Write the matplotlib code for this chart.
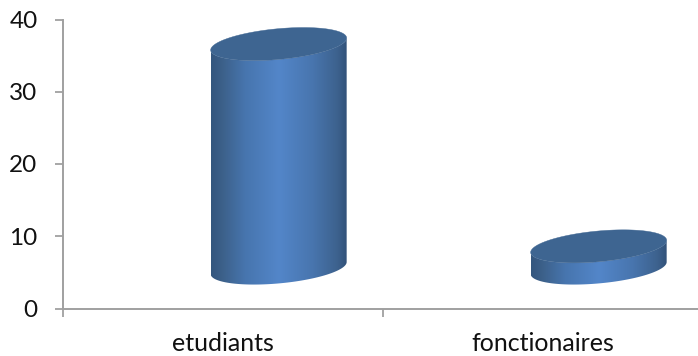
import numpy as np
import matplotlib
matplotlib.use("Agg")
import matplotlib.pyplot as plt
from matplotlib.colors import LinearSegmentedColormap
from matplotlib.patches import PathPatch
from matplotlib.path import Path

categories = ["etudiants", "fonctionaires"]
values = [31, 3]
y_ticks = [0, 10, 20, 30, 40]

W, H = 698, 356
AX_L, AX_R, AX_T, AX_B = 62.5, 702.5, 19.5, 308.5

# 3D look of the columns, in data units
FLOOR = 5.6          # raised floor of the pseudo-3D scene
DEPTH_SHIFT = 0.1755 # sideways shift of the columns
HALF_W = 0.2125      # column radius along x
SEMI_Y = 2.13        # ellipse half height before shear
SHEAR = 0.83         # vertical rise across one radius

GREY = "#a0a0a0"
TOP_FACE = "#3e6591"
side_cmap = LinearSegmentedColormap.from_list(
    "side",
    [(0.0, "#34567e"), (0.08, "#3c6089"), (0.25, "#4775ae"), (0.5, "#5386c9"),
     (0.75, "#4875ae"), (0.93, "#3d628e"), (1.0, "#32527a")],
)

plt.rcParams["font.family"] = ["Lato", "DejaVu Sans"]
fig = plt.figure(figsize=(W / 100, H / 100), dpi=100)
ax = fig.add_axes([AX_L / W, 1 - AX_B / H, (AX_R - AX_L) / W, (AX_B - AX_T) / H])


def rim(cx, cy, t):
    """Point on a sheared ellipse centred on (cx, cy)."""
    return (cx + HALF_W * np.cos(t),
            cy + SEMI_Y * np.sin(t) + SHEAR * np.cos(t))


def draw_column(pos, value):
    cx = pos + DEPTH_SHIFT
    y0, y1 = FLOOR, FLOOR + value
    # wall outline: lower half of the base rim, then the lower half of the top rim
    t_low = np.linspace(np.pi, 2 * np.pi, 80)
    bx, by = rim(cx, y0, t_low)
    tx, ty = rim(cx, y1, t_low[::-1])
    verts = np.vstack([np.column_stack([bx, by]), np.column_stack([tx, ty]), [bx[0], by[0]]])
    codes = [Path.MOVETO] + [Path.LINETO] * (len(verts) - 2) + [Path.CLOSEPOLY]
    wall = PathPatch(Path(verts, codes), facecolor="none", edgecolor="none", zorder=3)
    ax.add_patch(wall)
    grad = np.linspace(0, 1, 256).reshape(1, -1)
    im = ax.imshow(grad, cmap=side_cmap, aspect="auto", zorder=3, interpolation="bilinear",
                   extent=[cx - HALF_W, cx + HALF_W, y0 - 4, y1 + 4])
    im.set_clip_path(wall)
    # top face
    t = np.linspace(0, 2 * np.pi, 160)
    fx, fy = rim(cx, y1, t)
    ax.fill(fx, fy, color=TOP_FACE, lw=0.3, zorder=4)


for i, v in enumerate(values):
    draw_column(i, v)
ax.set_xlim(-0.5, 1.5)
ax.set_ylim(0, 40)

for side in ("top", "right"):
    ax.spines[side].set_visible(False)
for side in ("left", "bottom"):
    ax.spines[side].set_color(GREY)
    ax.spines[side].set_linewidth(1.4)

ax.set_yticks(y_ticks)
ax.set_xticks([-0.5, 0.5, 1.5])
ax.set_xticklabels([])
ax.set_xticks([0, 1], labels=categories, minor=True)
ax.tick_params(axis="x", which="major", length=6, width=1.3, color=GREY)
ax.tick_params(axis="x", which="minor", length=0, pad=17, labelsize=18, labelcolor="#111111")
ax.tick_params(axis="y", length=6, width=1.3, color=GREY, pad=12, labelsize=17.5, labelcolor="#111111")

fig.savefig("out.png", dpi=100)
